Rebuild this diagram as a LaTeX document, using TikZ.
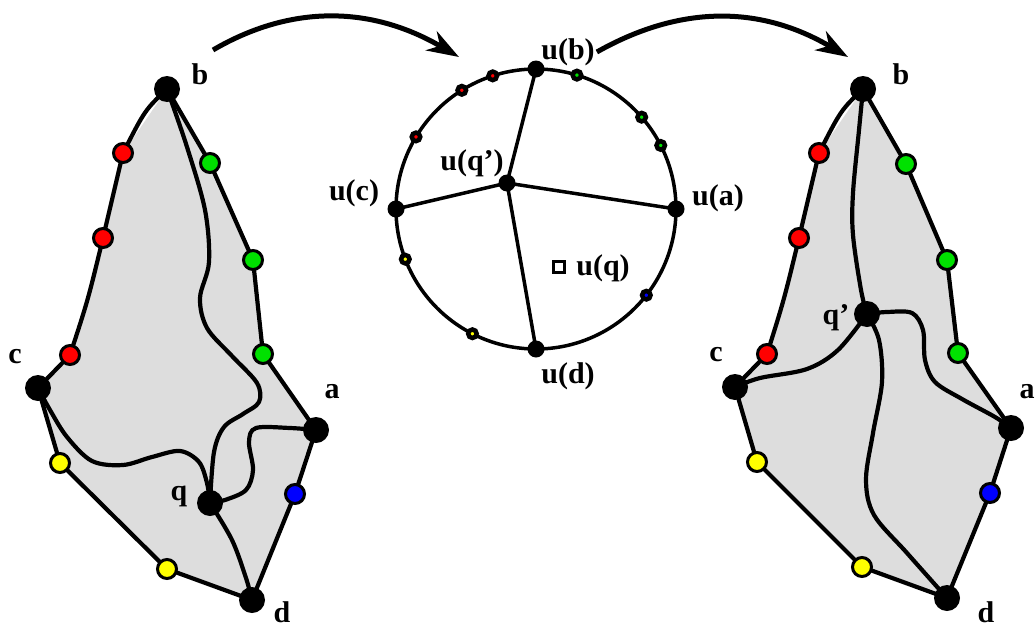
\documentclass[tikz,border=0pt]{standalone}
\usepackage{fontspec}
\setmainfont{Liberation Serif}
\usetikzlibrary{arrows.meta,backgrounds,calc}
\definecolor{regionfill}{RGB}{221,221,221}
\definecolor{dotred}{RGB}{255,0,0}
\definecolor{dotgreen}{RGB}{0,225,0}
\definecolor{dotblue}{RGB}{0,0,255}
\definecolor{dotyellow}{RGB}{255,255,0}
\begin{document}
\begin{tikzpicture}[x=1pt,y=-1pt,
  vtx/.style={circle,fill=black,inner sep=0pt,minimum size=26pt},
  cdot/.style={circle,draw=black,line width=3pt,inner sep=0pt,minimum size=19pt,fill=#1},
  cvtx/.style={circle,fill=black,inner sep=0pt,minimum size=17pt},
  sdot/.style={circle,draw=black,line width=4.5pt,inner sep=0pt,minimum size=8.5pt,fill=#1},
  seg/.style={line width=4.2pt,line join=round,line cap=round},
  lab/.style={font=\fontsize{30}{30}\selectfont\bfseries,inner sep=0pt},
  bigarrow/.style={line width=5pt,-{Stealth[length=32pt,width=22pt,inset=10pt]}},
  spline/.style={seg,smooth,tension=0.55}]
\useasboundingbox (0,0) rectangle (1036,632);

% ---------- left region ----------
\node[vtx] (Lb) at (167,89) {};
\node[cdot=dotred] (Lr1) at (123,153) {};
\node[cdot=dotred] (Lr2) at (103,238) {};
\node[cdot=dotred] (Lr3) at (70,355) {};
\node[vtx] (Lc) at (38,388) {};
\node[cdot=dotyellow] (Ly1) at (60,463) {};
\node[cdot=dotyellow] (Ly2) at (167,569) {};
\node[vtx] (Ld) at (252,600) {};
\node[cdot=dotblue] (Lbl) at (295,494) {};
\node[vtx] (La) at (316,430) {};
\node[cdot=dotgreen] (Lg3) at (263,354) {};
\node[cdot=dotgreen] (Lg2) at (253,260) {};
\node[cdot=dotgreen] (Lg1) at (210,163) {};
\node[vtx] (Lq) at (210,503) {};

\node[lab] (tLb) at (200,74) {b};
\node[lab] (tLc) at (15,357) {c};
\node[lab] (tLa) at (332,392) {a};
\node[lab] (tLq) at (179,496) {q};
\node[lab] (tLd) at (282,612) {d};

% ---------- right region ----------
\node[vtx] (Rb) at (863,89) {};
\node[cdot=dotred] (Rr1) at (819,153) {};
\node[cdot=dotred] (Rr2) at (799,238) {};
\node[cdot=dotred] (Rr3) at (767,354) {};
\node[vtx] (Rc) at (735,387) {};
\node[cdot=dotyellow] (Ry1) at (757,462) {};
\node[cdot=dotyellow] (Ry2) at (862,567) {};
\node[vtx] (Rd) at (947,598) {};
\node[cdot=dotblue] (Rbl) at (990,493) {};
\node[vtx] (Ra) at (1011,428) {};
\node[cdot=dotgreen] (Rg3) at (958,353) {};
\node[cdot=dotgreen] (Rg2) at (947,260) {};
\node[cdot=dotgreen] (Rg1) at (906,164) {};
\node[vtx] (Rq) at (867,314) {};

\node[lab] (tRb) at (901,74) {b};
\node[lab] (tRq) at (836,318) {q’};
\node[lab] (tRc) at (716,355) {c};
\node[lab] (tRa) at (1027,392) {a};
\node[lab] (tRd) at (986,612) {d};

% ---------- disc ----------
\coordinate (uC) at (536,209);
\node[cvtx] (ub) at ($(uC)+(90:140pt)$) {};
\node[cvtx] (uc) at ($(uC)+(180:140pt)$) {};
\node[cvtx] (ua) at ($(uC)+(0:140pt)$) {};
\node[cvtx] (ud) at ($(uC)+(270:140pt)$) {};
\node[cvtx] (uq) at (507,183) {};
\node[sdot=dotred] (sr1) at ($(uC)+(108:140pt)$) {};
\node[sdot=dotred] (sr2) at ($(uC)+(122:140pt)$) {};
\node[sdot=dotred] (sr3) at ($(uC)+(149:140pt)$) {};
\node[sdot=dotgreen] (sg1) at ($(uC)+(73:140pt)$) {};
\node[sdot=dotgreen] (sg2) at ($(uC)+(41:140pt)$) {};
\node[sdot=dotgreen] (sg3) at ($(uC)+(27:140pt)$) {};
\node[sdot=dotyellow] (sy1) at ($(uC)+(201:140pt)$) {};
\node[sdot=dotyellow] (sy2) at ($(uC)+(243:140pt)$) {};
\node[sdot=dotblue] (sbl) at ($(uC)+(322:140pt)$) {};
\node[draw=black,fill=white,line width=2.2pt,inner sep=0pt,minimum size=11pt] (uqbox) at (559,267) {};

\node[lab] (tub) at (568,52) {u(b)};
\node[lab] (tuc) at (354,193) {u(c)};
\node[lab] (tua) at (718,198) {u(a)};
\node[lab] (tud) at (568,376) {u(d)};
\node[lab] (tuq') at (472,163) {u(q’)};
\node[lab] (tuqq) at (603,268) {u(q)};

% ---------- mapping arrows ----------
\coordinate (arrLs) at (213,50);
\coordinate (arrLe) at (459,57);
\coordinate (arrRe) at (848,57);
\draw[bigarrow] (arrLs) .. controls (290,5) and (370,5) .. (arrLe);
\draw[bigarrow] ([xshift=2pt]tub.east) .. controls (680,5) and (760,5) .. (arrRe);

\begin{scope}[on background layer]
  % left region: fill, boundary and the curves meeting at q
  \fill[regionfill] (Lb.center) -- (Lr1.center) -- (Lr2.center) -- (Lr3.center) -- (Lc.center)
    -- (Ly1.center) -- (Ly2.center) -- (Ld.center) -- (Lbl.center) -- (La.center)
    -- (Lg3.center) -- (Lg2.center) -- (Lg1.center) -- cycle;
  \draw[seg] (Lb.center) .. controls (145,110) .. (Lr1.center) -- (Lr2.center)
    .. controls (88,300) .. (Lr3.center) -- (Lc.center) -- (Ly1.center) -- (Ly2.center)
    -- (Ld.center) -- (Lbl.center) -- (La.center) -- (Lg3.center) -- (Lg2.center)
    -- (Lg1.center) -- (Lb.center);
  \draw[spline] plot coordinates {(Lb.center) (187,147) (205,210) (209,262) (200,298)
    (207,328) (232,356) (257,383) (259,402) (243,414) (224,427) (214,452) (Lq.center)};
  \draw[spline] plot coordinates {(Lc.center) (50,410) (67,437) (92,461) (123,465)
    (152,457) (180,451) (199,462) (207,483) (Lq.center)};
  \draw[spline] plot coordinates {(La.center) (290,428) (256,428) (249,442) (253,470)
    (246,490) (225,500) (Lq.center)};
  \draw[spline] plot coordinates {(Lq.center) (232,540) (246,578) (Ld.center)};

  % right region: fill, boundary and the curves meeting at q'
  \fill[regionfill] (Rb.center) -- (Rr1.center) -- (Rr2.center) -- (Rr3.center) -- (Rc.center)
    -- (Ry1.center) -- (Ry2.center) -- (Rd.center) -- (Rbl.center) -- (Ra.center)
    -- (Rg3.center) -- (Rg2.center) -- (Rg1.center) -- cycle;
  \draw[seg] (Rb.center) .. controls (841,110) .. (Rr1.center) -- (Rr2.center)
    .. controls (784,300) .. (Rr3.center) -- (Rc.center) -- (Ry1.center) -- (Ry2.center)
    -- (Rd.center) -- (Rbl.center) -- (Ra.center) -- (Rg3.center) -- (Rg2.center)
    -- (Rg1.center) -- (Rb.center);
  \draw[spline] plot coordinates {(Rb.center) (859,130) (853,193) (853,235) (861,290) (Rq.center)};
  \draw[spline] plot coordinates {(Rc.center) (760,378) (807,369) (838,350) (Rq.center)};
  \draw[spline] plot coordinates {(Rq.center) (887,312) (912,313) (923,330) (925,360)
    (935,382) (962,399) (995,417) (Ra.center)};
  \draw[spline] plot coordinates {(Rq.center) (879,340) (882,382) (873,433) (866,480)
    (874,515) (907,553) (Rd.center)};

  % disc and its four spokes
  \draw[line width=3.5pt] (uC) circle[radius=140pt];
  \draw[line width=3.5pt] (uq.center) -- (ub.center);
  \draw[line width=3.5pt] (uq.center) -- (uc.center);
  \draw[line width=3.5pt] (uq.center) -- (ua.center);
  \draw[line width=3.5pt] (uq.center) -- (ud.center);
\end{scope}
\end{tikzpicture}
\end{document}
